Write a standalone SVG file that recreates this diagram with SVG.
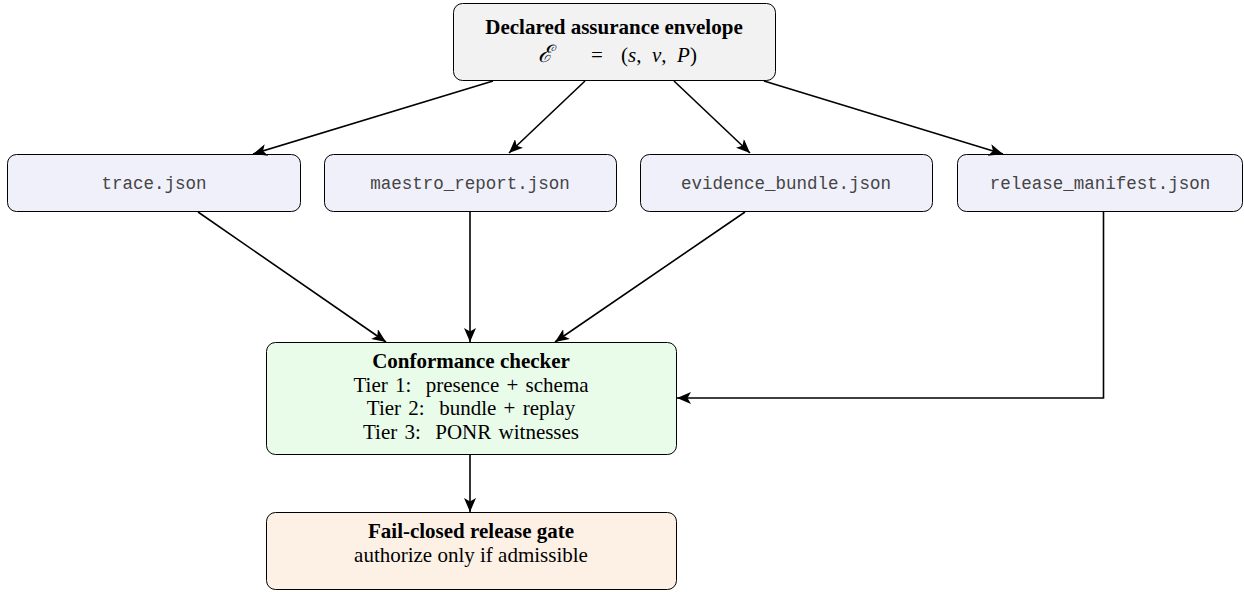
<svg xmlns="http://www.w3.org/2000/svg" width="1244" height="592" viewBox="0 0 1244 592">
<style>
.box{stroke:#000;stroke-width:1;}
.t{font-family:"Liberation Serif","DejaVu Serif",serif;font-size:21px;fill:#000;text-anchor:middle;white-space:pre;}
.b{font-weight:bold;}
.m{font-family:"Liberation Mono","DejaVu Sans Mono",monospace;font-size:17.5px;fill:#444;text-anchor:middle;}
.i{font-style:italic;}
.e{fill:none;stroke:#000;stroke-width:1.6;}
</style>
<defs>
<marker id="ah" viewBox="0 0 10 10" refX="10" refY="5" markerWidth="14" markerHeight="12" markerUnits="userSpaceOnUse" orient="auto" preserveAspectRatio="none">
<path d="M0,0 L10,5 L0,10 L2.5,5 z" fill="#000"/>
</marker>
</defs>
<g id="envelope">
<rect class="box" x="453.5" y="3.5" width="322" height="77" rx="9" fill="#f2f2f2"/>
<text class="t b" x="614" y="34">Declared assurance envelope</text>
<text class="t" x="614" y="62" xml:space="preserve"><tspan class="i" x="545" font-size="24">ℰ</tspan><tspan x="597">=</tspan><tspan x="659">(<tspan class="i">s</tspan>,  <tspan class="i">v</tspan>,  <tspan class="i">P</tspan>)</tspan></text>
</g>
<g id="trace">
<rect class="box" x="7.5" y="154.5" width="293" height="57" rx="9" fill="#f0f0fb"/>
<text class="m" x="154" y="189">trace.json</text>
</g>
<g id="maestro">
<rect class="box" x="324.5" y="154.5" width="292" height="57" rx="9" fill="#f0f0fb"/>
<text class="m" x="470" y="189">maestro_report.json</text>
</g>
<g id="evidence">
<rect class="box" x="640.5" y="154.5" width="292" height="57" rx="9" fill="#f0f0fb"/>
<text class="m" x="786" y="189">evidence_bundle.json</text>
</g>
<g id="release">
<rect class="box" x="957.5" y="154.5" width="285" height="57" rx="9" fill="#f0f0fb"/>
<text class="m" x="1100" y="189">release_manifest.json</text>
</g>
<g id="checker">
<rect class="box" x="266.5" y="342.5" width="410" height="112" rx="9" fill="#e9fbe9"/>
<text class="t b" x="471" y="368">Conformance checker</text>
<text class="t" x="471" y="392" xml:space="preserve" word-spacing="2">Tier 1:  presence + schema</text>
<text class="t" x="471" y="415" xml:space="preserve" word-spacing="2">Tier 2:  bundle + replay</text>
<text class="t" x="471" y="439" xml:space="preserve" word-spacing="2">Tier 3:  PONR witnesses</text>
</g>
<g id="gate">
<rect class="box" x="266.5" y="512.5" width="410" height="77" rx="9" fill="#fdf1e6"/>
<text class="t b" x="471" y="538">Fail-closed release gate</text>
<text class="t" x="471" y="562">authorize only if admissible</text>
</g>
<g id="connectors">
<path class="e" d="M493,81 L253,154" marker-end="url(#ah)"/>
<path class="e" d="M585,81 L509,153" marker-end="url(#ah)"/>
<path class="e" d="M674,81 L750,153" marker-end="url(#ah)"/>
<path class="e" d="M764,81 L1003,154" marker-end="url(#ah)"/>
<path class="e" d="M198,212 L386,342" marker-end="url(#ah)"/>
<path class="e" d="M470,212 L470,342" marker-end="url(#ah)"/>
<path class="e" d="M745,212 L555,342" marker-end="url(#ah)"/>
<path class="e" d="M1103.5,212 L1103.5,398 L677,398" marker-end="url(#ah)"/>
<path class="e" d="M470,455 L470,512" marker-end="url(#ah)"/>
</g>
</svg>
